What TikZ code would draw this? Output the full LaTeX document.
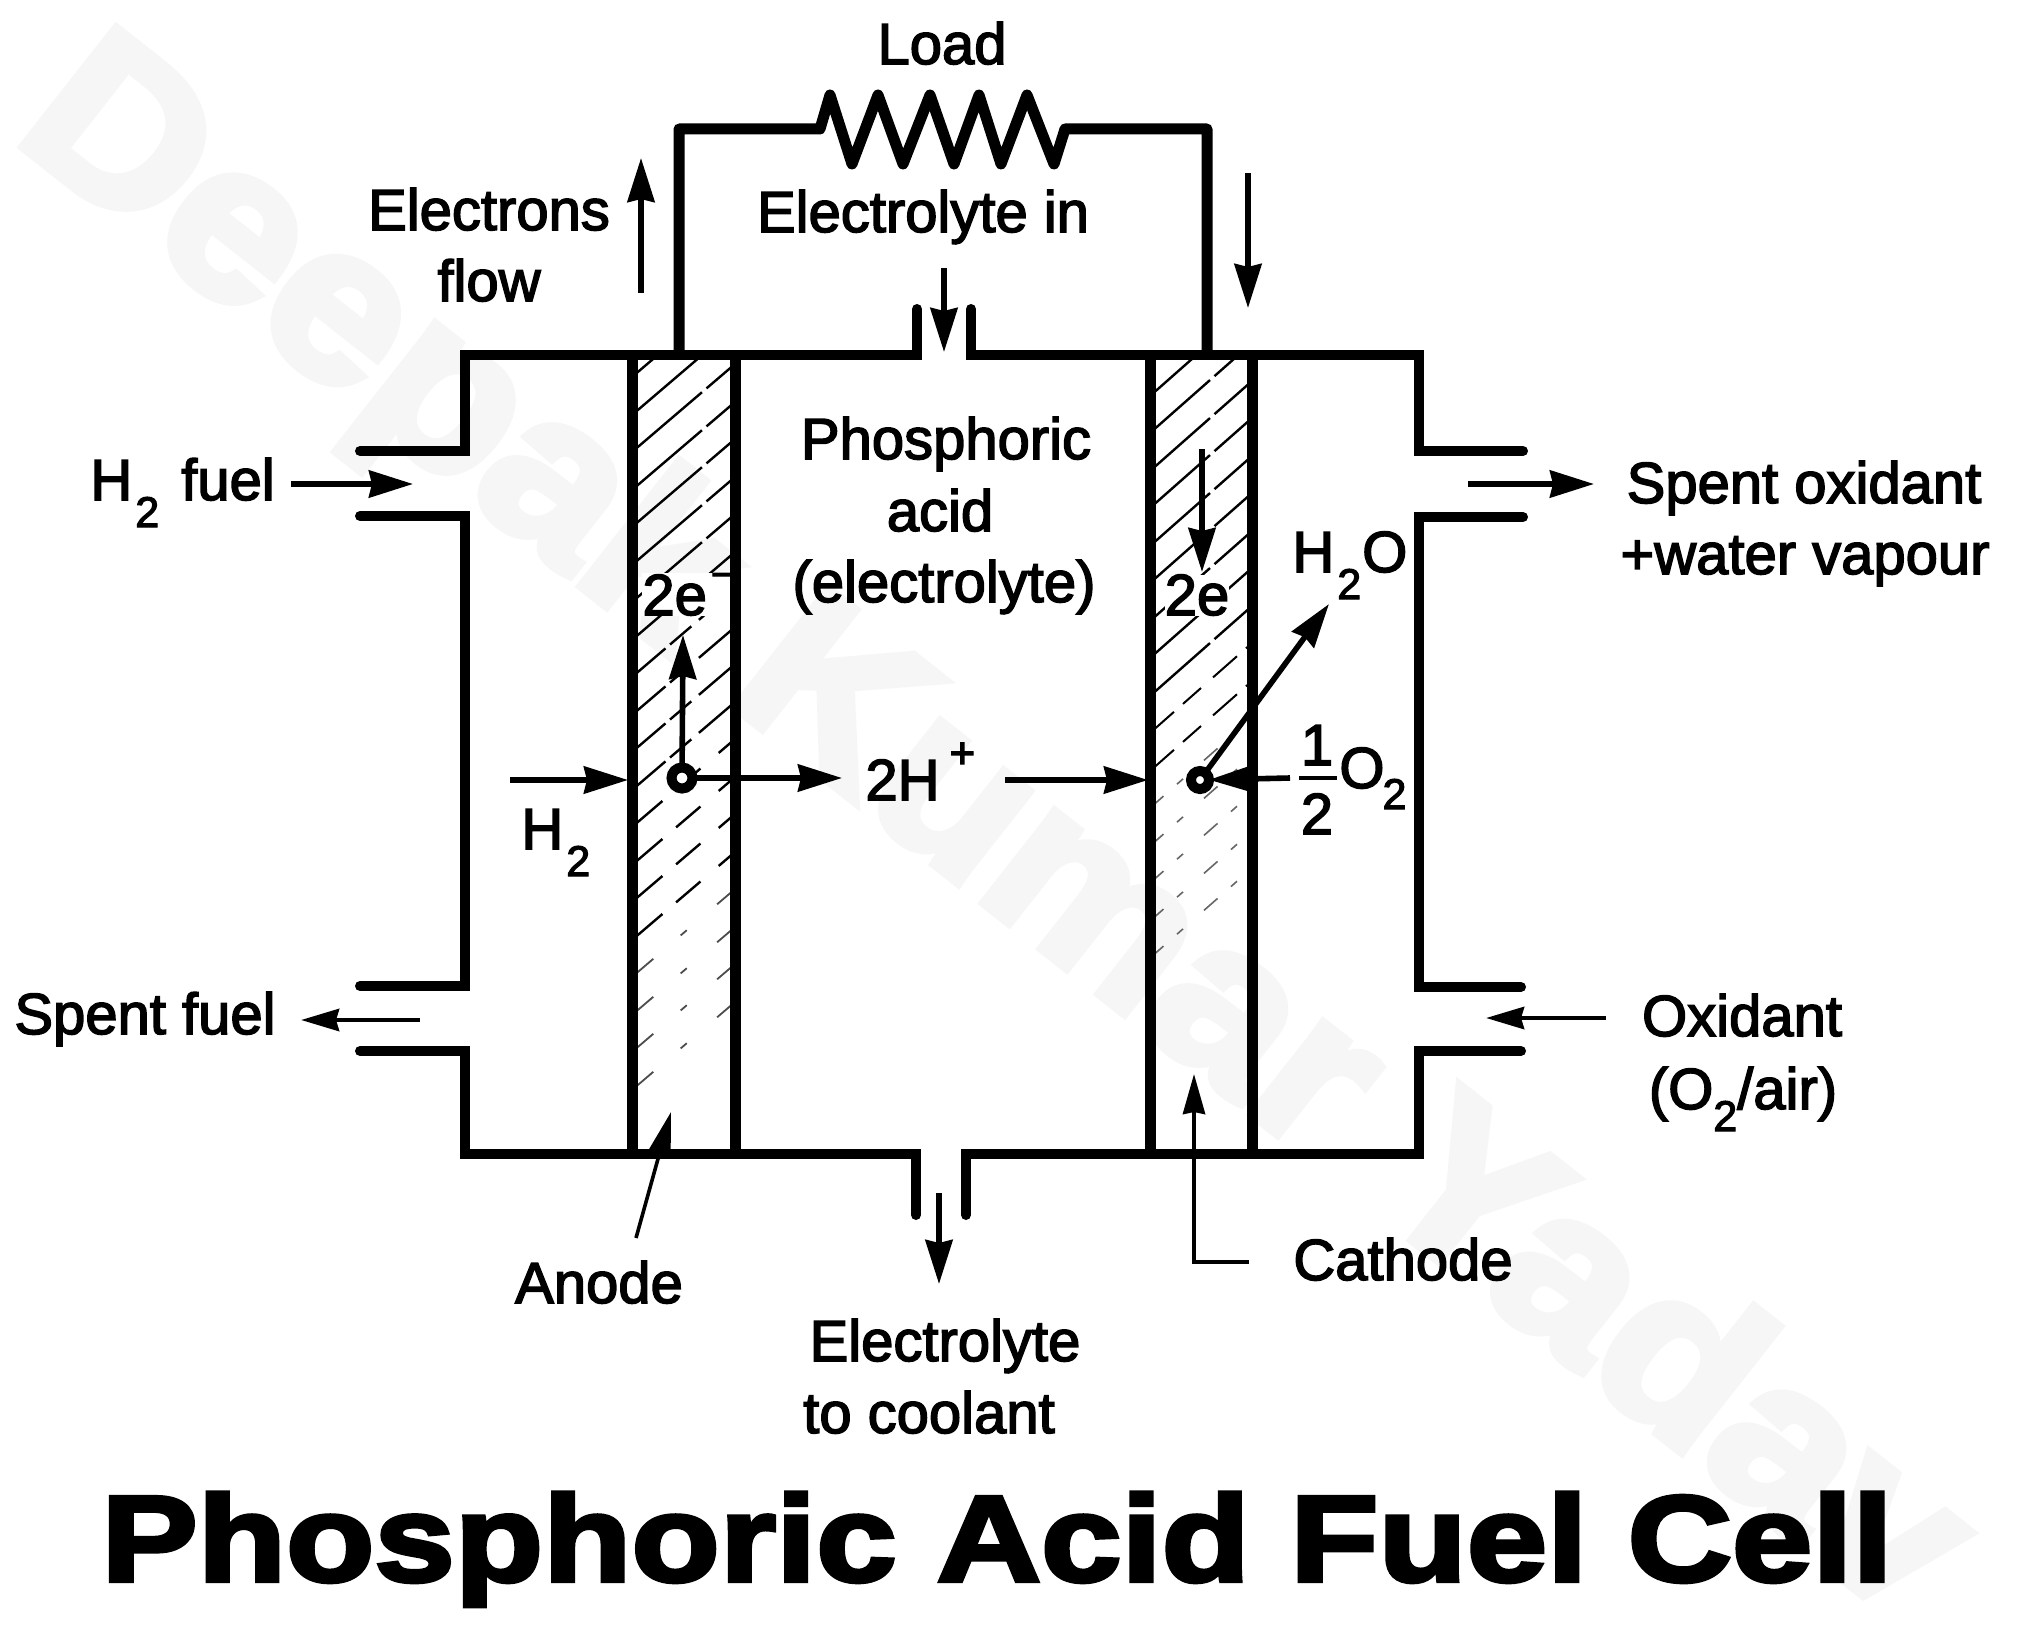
\documentclass[tikz,border=0pt]{standalone}
\usepackage{fontspec}
\usetikzlibrary{arrows.meta}
\newfontfamily\labfont[FakeBold=2.6]{Liberation Sans}
\newfontfamily\titlefont[FakeBold=3.5,FakeStretch=1.185]{Liberation Sans Bold}
\newfontfamily\markfont[FakeBold=4,FakeStretch=1.075]{Liberation Sans Bold}
\newcommand\subtwo[1][13.5pt]{\raisebox{-#1}{\fontsize{21.5}{24}\selectfont 2}}
\definecolor{markgray}{HTML}{F6F6F6}
\tikzset{
  lab/.style={inner sep=0pt,font=\labfont\fontsize{29}{34}\selectfont,text=black},
  wall/.style={line width=5pt,line join=miter,line cap=round},
  strip/.style={line width=5.5pt},
  hatchline/.style={line width=1.2pt,black},
  flow/.style={line width=2.8pt,-{Stealth[length=22pt,width=13.5pt,inset=1.5pt]}},
  smallflow/.style={line width=2.4pt,-{Stealth[length=19pt,width=11pt,inset=1.5pt]}},
  dot/.style={circle,draw,line width=5pt,fill=white,inner sep=0pt,outer sep=0pt,minimum size=10.5pt},
  leader/.style={line width=1.8pt}
}
\begin{document}
\begin{tikzpicture}[x=0.5pt,y=-0.5pt]
\useasboundingbox (0,0) rectangle (2018,1627);
\fill[white] (0,0) rectangle (2018,1627);
% watermark
\node[anchor=base west,inner sep=0pt,rotate=-38.2,text=markgray,font=\markfont\fontsize{110}{120}\selectfont] (watermark) at (10,137) {Deepak Kumar Yadav};
% hatching, anode
\begin{scope}
\clip (632,358) rectangle (735,1154);
\foreach \y in {377,415,452,490,527,565,602}
  \draw[hatchline,dash pattern=on 46pt off 3pt on 24pt off 4pt] (632,\y) -- ++(103,-88);
\foreach \y in {640,677,715,752,790}
  \draw[hatchline,dash pattern=on 22pt off 3pt on 14pt off 5pt on 26pt off 4pt] (632,\y) -- ++(103,-88);
\foreach \y in {827,865,902,940}
  \draw[hatchline,dash pattern=on 20pt off 9pt on 16pt off 12pt] (632,\y) -- ++(103,-88);
\foreach \y in {977,1015,1052,1090}
  \draw[line width=0.9pt,black!70,dash pattern=on 14pt off 18pt on 4pt off 20pt] (632,\y) -- ++(103,-88);
\end{scope}
% hatching, cathode
\begin{scope}
\clip (1150,358) rectangle (1252,1154);
\foreach \y in {396,433,471,508,546,583,621,658,696}
  \draw[hatchline,dash pattern=on 40pt off 3pt on 26pt off 4pt] (1150,\y) -- ++(102,-90);
\foreach \y in {733,771}
  \draw[hatchline,line width=1pt,dash pattern=on 16pt off 6pt on 12pt off 8pt] (1150,\y) -- ++(102,-90);
\foreach \y in {808,846,883,921,958}
  \draw[line width=0.8pt,black!60,dash pattern=on 9pt off 9pt on 4pt off 14pt] (1150,\y) -- ++(102,-90);
\end{scope}
% cell outline
\draw[wall] (360,451) -- (465,451) -- (465,355) -- (917,355) -- (917,309);
\draw[wall] (971,309) -- (971,355) -- (1419,355) -- (1419,451) -- (1523,451);
\draw[wall] (360,516) -- (465,516) -- (465,986) -- (360,986);
\draw[wall] (360,1051) -- (465,1051) -- (465,1154) -- (916,1154) -- (916,1215);
\draw[wall] (966,1215) -- (966,1154) -- (1419,1154) -- (1419,1051) -- (1521,1051);
\draw[wall] (1521,987) -- (1419,987) -- (1419,517) -- (1523,517);
% external circuit with load
\draw[line width=5.5pt,line join=round,line cap=butt] (679,355) -- (679,129) -- (820,129)
  -- (830,95) -- (852,164) -- (878,95) -- (903,164) -- (930,95) -- (954,164)
  -- (979,95) -- (1001,164) -- (1027,95) -- (1054,164) -- (1065,129) -- (1207,129) -- (1207,355);
% labels
\node[lab,anchor=base] (load) at (942,64) {Load};
\node[lab,anchor=base] (electrons) at (489,230) {Electrons};
\node[lab,anchor=base] (flowlab) at (489,301) {flow};
\node[lab,anchor=base] (elecin) at (923,232) {Electrolyte in};
\node[lab,anchor=base] (phos) at (946,459) {Phosphoric};
\node[lab,anchor=base] (acid) at (940,531) {acid};
\node[lab,anchor=base] (elec) at (944,602) {(electrolyte)};
\node[lab,anchor=base west,fill=white] (twoeA) at (642,615) {2e\kern2pt\raisebox{13.5pt}{\fontsize{20}{22}\selectfont −}};
\node[lab,anchor=base,fill=white] (twoeC) at (1197,615) {2e};
\node[lab,anchor=base west] (hfuel) at (90,500) {H\kern1.5pt\subtwo\kern11pt fuel};
\node[lab,anchor=base west] (htwo) at (521,849) {H\kern1.5pt\subtwo};
\node[lab,anchor=base west] (twoH) at (865,800) {2H\kern5pt\raisebox{16pt}{\fontsize{22}{24}\selectfont +}};
\node[lab,anchor=base] (fracone) at (1317,765) {1};
\node[lab,anchor=base] (fractwo) at (1317,834) {2};
\node[lab,anchor=base west] (otwo) at (1339,788) {O\kern-1pt\subtwo[10.5pt]};
\node[lab,anchor=base west] (water) at (1292,572) {H\kern1.5pt\subtwo\kern0.5pt O};
\node[lab,anchor=base] (spentox) at (1804,503) {Spent oxidant};
\node[lab,anchor=base] (wvapour) at (1805,574) {+water vapour};
\node[lab,anchor=base] (spentfuel) at (145,1034) {Spent fuel};
\node[lab,anchor=base] (oxidant) at (1742,1036) {Oxidant};
\node[lab,anchor=base] (oxair) at (1743,1109) {(O\subtwo[11pt]/air)};
\node[lab,anchor=base] (anode) at (599,1303) {Anode};
\node[lab,anchor=base] (cathode) at (1403,1280) {Cathode};
\node[lab,anchor=base] (elto) at (945,1361) {Electrolyte};
\node[lab,anchor=base] (coolant) at (929,1433) {to coolant};
\node[anchor=base,inner sep=0pt,text=black,font=\titlefont\fontsize{61}{70}\selectfont] (title) at (997,1581) {Phosphoric Acid Fuel Cell};
% electrodes
\draw[strip] (632,355) -- (632,1154);
\draw[strip] (735,355) -- (735,1154);
\draw[strip] (1150,355) -- (1150,1154);
\draw[strip] (1252,355) -- (1252,1154);
% reaction sites
\node[dot] (siteA) at (682,778) {};
\node[dot,minimum size=9pt] (siteC) at (1200,780) {};
% connector end points
\coordinate (e1) at (641,293); \coordinate (e2) at (641,158);
\coordinate (d1) at (1248,173); \coordinate (d2) at (1248,308);
\coordinate (ei1) at (944,268); \coordinate (ei2) at (944,352);
\coordinate (f1) at (291,484); \coordinate (f2) at (413,484);
\coordinate (sf1) at (420,1020); \coordinate (sf2) at (301,1020);
\coordinate (so1) at (1468,484); \coordinate (so2) at (1594,484);
\coordinate (ox1) at (1606,1018); \coordinate (ox2) at (1486,1018);
\coordinate (hh1) at (510,780); \coordinate (hh2) at (628,780);
\coordinate (up) at (683,635); \coordinate (pr) at (842,778);
\coordinate (pp1) at (1005,780); \coordinate (pp2) at (1148,780);
\coordinate (dn1) at (1202,449); \coordinate (dn2) at (1202,572);
\coordinate (wt) at (1329,604);
\coordinate (o1) at (1290,778);
\coordinate (bar1) at (1299,778); \coordinate (bar2) at (1337,778);
\coordinate (out1) at (939,1193); \coordinate (out2) at (939,1284);
\coordinate (an1) at (636,1238); \coordinate (an2) at (671,1112);
\coordinate (ca1) at (1249,1262); \coordinate (ca2) at (1194,1262); \coordinate (ca3) at (1194,1074);
% connectors
\draw[flow] (e1) -- (e2);
\draw[flow] (d1) -- (d2);
\draw[flow] (ei1) -- (ei2);
\draw[flow] (f1) -- (f2);
\draw[smallflow] (sf1) -- (sf2);
\draw[flow] (so1) -- (so2);
\draw[smallflow] (ox1) -- (ox2);
\draw[flow] (hh1) -- (hh2);
\draw[flow] (siteA) -- (up);
\draw[flow] (siteA) -- (pr);
\draw[flow] (pp1) -- (pp2);
\draw[flow] (dn1) -- (dn2);
\draw[flow] (siteC) -- (wt);
\draw[flow] (o1) -- (siteC);
\draw[line width=2.4pt] (bar1) -- (bar2);
\draw[flow] (out1) -- (out2);
\draw[leader,-{Stealth[length=21pt,width=11pt,inset=1pt]}] (an1) -- (an2);
\draw[line width=2pt,-{Stealth[length=20pt,width=11pt,inset=1pt]}] (ca1) -- (ca2) -- (ca3);
\end{tikzpicture}
\end{document}
